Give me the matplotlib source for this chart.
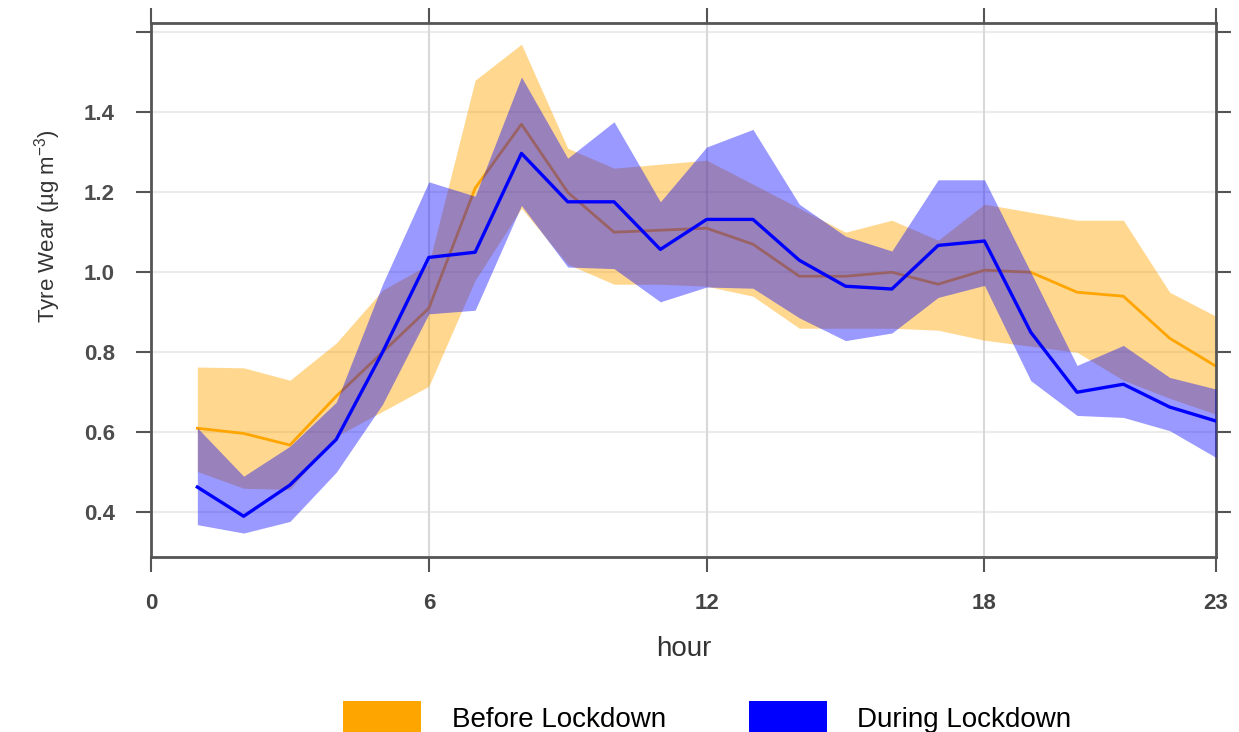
import numpy as np
import matplotlib
matplotlib.use("Agg")
import matplotlib.pyplot as plt
from matplotlib.patches import Patch

plt.rcParams['font.family'] = ['Liberation Sans', 'DejaVu Sans']
plt.rcParams['mathtext.fontset'] = 'custom'
plt.rcParams['mathtext.rm'] = 'Liberation Sans'

# hourly means and band limits
hours = list(range(1, 24))

before_mean = [0.61, 0.597, 0.568, 0.69, 0.80, 0.91, 1.21, 1.37, 1.20, 1.10, 1.105, 1.11,
               1.07, 0.99, 0.99, 1.00, 0.97, 1.005, 1.00, 0.95, 0.94, 0.835, 0.765]
before_high = [0.763, 0.761, 0.73, 0.823, 0.955, 1.02, 1.48, 1.57, 1.31, 1.26, 1.27, 1.28,
               1.22, 1.16, 1.10, 1.13, 1.08, 1.17, 1.15, 1.13, 1.13, 0.95, 0.89]
before_low = [0.502, 0.46, 0.457, 0.59, 0.652, 0.715, 0.98, 1.16, 1.02, 0.97, 0.97, 0.965,
              0.94, 0.86, 0.86, 0.86, 0.855, 0.83, 0.815, 0.80, 0.73, 0.685, 0.645]

during_mean = [0.463, 0.39, 0.468, 0.582, 0.80, 1.037, 1.05, 1.297, 1.176, 1.176, 1.057, 1.132,
               1.132, 1.03, 0.965, 0.958, 1.067, 1.078, 0.85, 0.70, 0.72, 0.663, 0.628]
during_high = [0.611, 0.49, 0.565, 0.675, 0.97, 1.226, 1.19, 1.488, 1.285, 1.376, 1.176, 1.313,
               1.357, 1.17, 1.09, 1.053, 1.231, 1.231, 1.00, 0.767, 0.817, 0.737, 0.708]
during_low = [0.369, 0.348, 0.377, 0.50, 0.67, 0.896, 0.905, 1.167, 1.013, 1.009, 0.926, 0.963,
              0.96, 0.886, 0.829, 0.848, 0.937, 0.967, 0.729, 0.642, 0.637, 0.604, 0.537]

xticks = [0, 6, 12, 18, 23]
yticks = [0.4, 0.6, 0.8, 1.0, 1.2, 1.4, 1.6]
ytick_labels = ['0.4', '0.6', '0.8', '1.0', '1.2', '1.4', '']

fig = plt.figure(figsize=(12.39, 7.32), dpi=100)
ax = fig.add_axes([0.1219, 0.239, 0.8595, 0.7296])

# grid
for y in yticks:
    ax.axhline(y, color='#ebebeb', lw=1.5, zorder=0)
for x in xticks[1:-1]:
    ax.axvline(x, color='#d9d9d9', lw=1.5, zorder=0)

ax.fill_between(hours, before_low, before_high, color='orange', alpha=0.44, lw=0, zorder=1)
ax.plot(hours, before_mean, color='orange', lw=2, zorder=2)
ax.fill_between(hours, during_low, during_high, color='blue', alpha=0.4, lw=0, zorder=3)
ax.plot(hours, during_mean, color='blue', lw=2.4, zorder=4)

ax.set_xlim(0, 23)
ax.set_ylim(0.288, 1.623)
ax.set_xticks(xticks)
ax.set_yticks(yticks)
ax.set_yticklabels(ytick_labels)

for s in ax.spines.values():
    s.set_color('#555555')
    s.set_linewidth(2)

ax.tick_params(axis='both', which='major', direction='out', length=11, width=1.5,
               color='#555555', top=True, right=True, pad=15)
ax.tick_params(axis='x', labelsize=16, labelcolor='#444444')
ax.tick_params(axis='y', labelsize=16, labelcolor='#4d4d4d')
for lab in ax.get_xticklabels() + ax.get_yticklabels():
    lab.set_fontweight('bold')

ax.set_xlabel('hour', fontsize=20, color='#333333')
ax.xaxis.set_label_coords(0.5, -0.148)
ax.set_ylabel('Tyre Wear (µg m$^{-3}$)', fontsize=16, color='#333333',
              family=['Liberation Sans Narrow', 'Liberation Sans'])
ax.yaxis.set_label_coords(-0.083, 0.62)

handles = [Patch(facecolor='orange', edgecolor='none', label='Before Lockdown'),
           Patch(facecolor='blue', edgecolor='none', label='During Lockdown')]
fig.legend(handles=handles, loc='center', bbox_to_anchor=(0.571, 0.019), ncol=2,
           frameon=False, fontsize=20, handlelength=2.8, handleheight=1.5,
           handletextpad=1.1, columnspacing=3.0)

fig.savefig('out.png', dpi=100, facecolor='white')
